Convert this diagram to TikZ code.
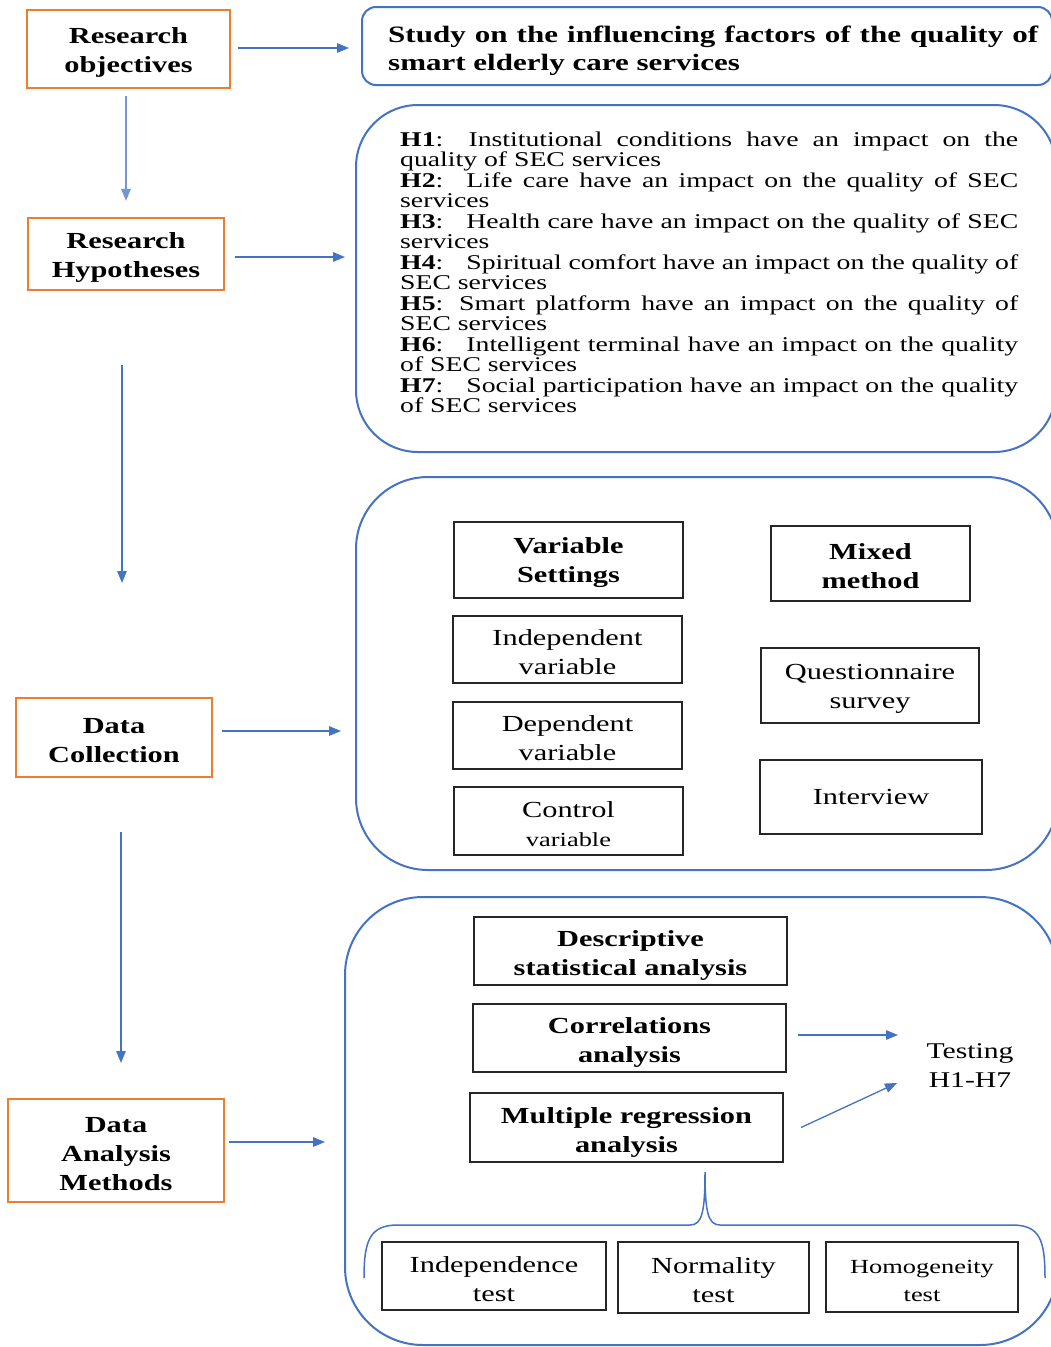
\documentclass[tikz,border=0pt]{standalone}
\usepackage{fontspec}
\setmainfont{Liberation Serif}[FakeStretch=1.32]
\usetikzlibrary{arrows.meta}
\definecolor{orng}{HTML}{ED7D31}
\definecolor{blu}{HTML}{4472C4}
\newcommand\fsz[2]{\fontsize{#1}{#2}\selectfont}
\newcommand\tp{\rule{0pt}{22pt}}
\newcommand\tq{\rule{0pt}{25pt}}
\begin{document}
\begin{tikzpicture}[x=1pt,y=-1pt,
 obox/.style={draw=orng,line width=2.3pt,inner sep=0pt,align=center,font=\fsz{23}{29}\bfseries},
 kbox/.style={draw=black!85,line width=2pt,inner sep=0pt,align=center,font=\fsz{23}{29}},
 kboxb/.style={kbox,font=\fsz{23}{29}\bfseries},
 cont/.style={draw=blu,line width=2pt,inner sep=0pt},
 arr/.style={draw=blu,line width=1.3pt,-{Triangle[length=12pt,width=9.5pt]}},
]
\useasboundingbox (0,0) rectangle (1051,1347);
\clip (0,0) rectangle (1051,1347);
\fill[white] (0,0) rectangle (1051,1347);

% left column
\node[obox, minimum width=203pt, minimum height=78pt] (ro) at (128.5,49) {\tp Research\\objectives};
\node[obox, minimum width=196pt, minimum height=72pt] (rh) at (126,254) {\tp Research\\Hypotheses};
\node[obox, minimum width=196pt, minimum height=79pt] (dc) at (114,737.5) {\tp Data\\Collection};
\node[obox, minimum width=216pt, minimum height=103pt] (dam) at (116,1150.5) {\tp Data\\Analysis\\Methods};

% containers
\node[cont, rounded corners=14pt, minimum width=690pt, minimum height=78pt] (top) at (707,46) {};
\node[cont, rounded corners=62pt, minimum width=700pt, minimum height=347pt] (hbox) at (706,278.5) {};
\node[cont, rounded corners=72pt, minimum width=702pt, minimum height=393pt] (mid) at (707,673.5) {};
\node[cont, rounded corners=78pt, minimum width=713pt, minimum height=448pt] (bot) at (701.5,1121) {};

% title
\node[anchor=base west, text width=650pt, align=justify, inner sep=0pt, font=\fsz{23.5}{28}\bfseries] (title) at (388,42)
 {Study on the influencing factors of the quality of smart elderly care services};

% hypotheses
\node[anchor=base west, text width=618pt, align=justify, inner sep=0pt, font=\fsz{21}{20.5}] (hyp) at (400,146)
 {\textbf{H1}:\hspace{1.2em}Institutional conditions have an impact on the\linebreak quality of SEC services\\
  \textbf{H2}:\hspace{1.1em}Life care have an impact on the quality of SEC\linebreak services\\
  \textbf{H3}:\hspace{1.1em}Health care have an impact on the quality of SEC\linebreak services\\
  \textbf{H4}:\hspace{1.1em}Spiritual comfort have an impact on the quality of\linebreak SEC services\\
  \textbf{H5}: Smart platform have an impact on the quality of\linebreak SEC services\\
  \textbf{H6}:\hspace{1.1em}Intelligent terminal have an impact on the quality\linebreak of SEC services\\
  \textbf{H7}:\hspace{1.1em}Social participation have an impact on the quality\linebreak of SEC services};

% data collection contents
\node[kboxb, minimum width=229pt, minimum height=76pt] (vs) at (568.5,560) {\tp Variable\\Settings};
\node[kbox, minimum width=229pt, minimum height=67pt] (iv) at (567.5,649.5) {\tp Independent\\variable};
\node[kbox, minimum width=229pt, minimum height=67pt] (dv) at (567.5,735.5) {\tp Dependent\\variable};
\node[kbox, minimum width=229pt, minimum height=68pt] (cv) at (568.5,821) {\tp Control\\{\fsz{20}{28}variable}};
\node[kboxb, minimum width=199pt, minimum height=75pt] (mm) at (870.5,563.5) {\tp Mixed\\method};
\node[kbox, minimum width=218pt, minimum height=75pt] (qs) at (870,685.5) {\tp Questionnaire\\survey};
\node[kbox, minimum width=222pt, minimum height=74pt] (iw) at (871,797) {Interview};

% data analysis contents
\node[kboxb, minimum width=313pt, minimum height=68pt] (desc) at (630.5,951) {\tq Descriptive\\statistical analysis};
\node[kboxb, minimum width=313pt, minimum height=68pt] (corr) at (629.5,1038) {\tq Correlations\\analysis};
\node[kboxb, minimum width=313pt, minimum height=69pt] (mra) at (626.5,1127.5) {\tq Multiple regression\\analysis};
\node[align=center, inner sep=0pt, font=\fsz{22.5}{29}] (test) at (970,1066) {Testing\\H1-H7};
\node[kbox, minimum width=224pt, minimum height=68pt] (it) at (494,1276) {\tp Independence\\test};
\node[kbox, minimum width=191pt, minimum height=71pt] (nt) at (713.5,1277.5) {\tp Normality\\test};
\node[kbox, minimum width=192pt, minimum height=70pt, font=\fsz{20}{28}] (ht) at (922,1277) {\tp Homogeneity\\test};

% arrows
\draw[arr] ([shift={(7,-1)}]ro.east) -- ([shift={(-12,-1)}]ro.east -| top.west);
\draw[arr] ([shift={(10,3)}]rh.east) -- ([shift={(-10,3)}]rh.east -| hbox.west);
\draw[arr] ([shift={(9,-6.5)}]dc.east) -- ([shift={(-14,-6.5)}]dc.east -| mid.west);
\draw[arr] ([shift={(4,-8.5)}]dam.east) -- ([shift={(-19,-8.5)}]dam.east -| bot.west);

\draw[arr, draw=blu!75, shorten <=7pt, shorten >=16pt] (rh |- ro.south) -- (rh.north);
\coordinate (a2s) at (122,365);
\coordinate (a2e) at (122,583);
\draw[arr] (a2s) -- (a2e);
\coordinate (a3s) at (121,832);
\coordinate (a3e) at (121,1063);
\draw[arr] (a3s) -- (a3e);

\coordinate (t1) at (898,1035);
\coordinate (t2) at (897,1083);
\draw[arr] ([shift={(11,-3)}]corr.east) -- (t1);
\draw[arr] ([xshift=17pt]mra.east) -- (t2);

% brace
\draw[blu, line width=1.5pt] (364,1278) .. controls (364,1240) and (370,1225) .. (398,1225)
 -- (690,1225) .. controls (702,1225) and (705,1212) .. (705,1172)
 .. controls (705,1212) and (708,1225) .. (720,1225)
 -- (1012,1225) .. controls (1040,1225) and (1045,1240) .. (1045,1278);
\end{tikzpicture}
\end{document}
